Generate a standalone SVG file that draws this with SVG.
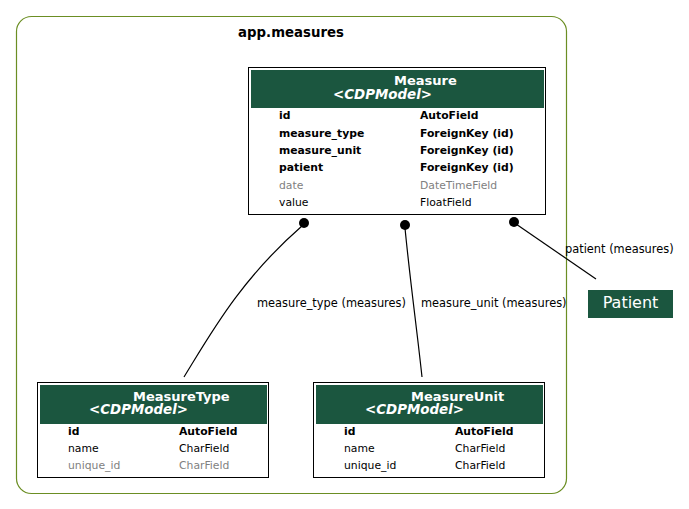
<svg xmlns="http://www.w3.org/2000/svg" width="689" height="509" viewBox="0 0 689 509">
<style>
text{font-family:"DejaVu Sans",sans-serif;font-size:10.8px;fill:#000}
.b{font-weight:bold}
.g{fill:#7f7f7f}
.l{font-size:11.4px}
.t{font-weight:bold;font-size:13px;fill:#fff}
.s{font-weight:bold;font-style:italic;font-size:13.4px;fill:#fff}
.hdr{fill:#1b563f}
.box{fill:#fff;stroke:#000;stroke-width:1}
.e{fill:none;stroke:#000;stroke-width:1.2}
</style>
<rect width="689" height="509" fill="#fff"/>
<g id="cluster">
<rect x="16.5" y="16.5" width="550" height="477" rx="15" fill="none" stroke="#6b8e23" stroke-width="1.2"/>
<text x="291" y="37" text-anchor="middle" class="b" style="font-size:13.3px">app.measures</text>
</g>
<g id="connectors">
<path class="e" d="M184,377 C210,335 240,280 302,226"/>
<circle cx="304" cy="223" r="5"/>
<text x="257" y="307" class="l">measure_type (measures)</text>
<path class="e" d="M422,377 C417,330 410,280 405,228"/>
<circle cx="405" cy="225" r="5"/>
<text x="421" y="307" class="l">measure_unit (measures)</text>
<path class="e" d="M596,279 L516,224"/>
<circle cx="514" cy="222" r="5"/>
<text x="565" y="253" class="l">patient (measures)</text>
</g>
<g id="Measure">
<rect class="box" x="248.5" y="67.5" width="297" height="147"/>
<rect class="hdr" x="251" y="70" width="293" height="38"/>
<text x="394" y="85" class="t">Measure</text>
<text x="333" y="99" class="s">&lt;CDPModel&gt;</text>
<text x="279" y="119" class="b">id</text><text x="420" y="119" class="b">AutoField</text>
<text x="279" y="137" class="b">measure_type</text><text x="420" y="137" class="b">ForeignKey (id)</text>
<text x="279" y="154" class="b">measure_unit</text><text x="420" y="154" class="b">ForeignKey (id)</text>
<text x="279" y="171" class="b">patient</text><text x="420" y="171" class="b">ForeignKey (id)</text>
<text x="279" y="189" class="g">date</text><text x="420" y="189" class="g">DateTimeField</text>
<text x="279" y="206">value</text><text x="420" y="206">FloatField</text>
</g>
<g id="MeasureType">
<rect class="box" x="37.5" y="382.5" width="231" height="95"/>
<rect class="hdr" x="40" y="385" width="227" height="39"/>
<text x="133" y="401" class="t">MeasureType</text>
<text x="89" y="414" class="s">&lt;CDPModel&gt;</text>
<text x="68" y="435" class="b">id</text><text x="179" y="435" class="b">AutoField</text>
<text x="68" y="452">name</text><text x="179" y="452">CharField</text>
<text x="68" y="469" class="g">unique_id</text><text x="179" y="469" class="g">CharField</text>
</g>
<g id="MeasureUnit">
<rect class="box" x="313.5" y="382.5" width="231" height="95"/>
<rect class="hdr" x="316" y="385" width="227" height="39"/>
<text x="411" y="401" class="t">MeasureUnit</text>
<text x="365" y="414" class="s">&lt;CDPModel&gt;</text>
<text x="344" y="435" class="b">id</text><text x="455" y="435" class="b">AutoField</text>
<text x="344" y="452">name</text><text x="455" y="452">CharField</text>
<text x="344" y="469">unique_id</text><text x="455" y="469">CharField</text>
</g>
<g id="Patient">
<rect class="hdr" x="588" y="290" width="85" height="28"/>
<text x="630.5" y="308" text-anchor="middle" style="font-size:16px;fill:#fff">Patient</text>
</g>
</svg>
